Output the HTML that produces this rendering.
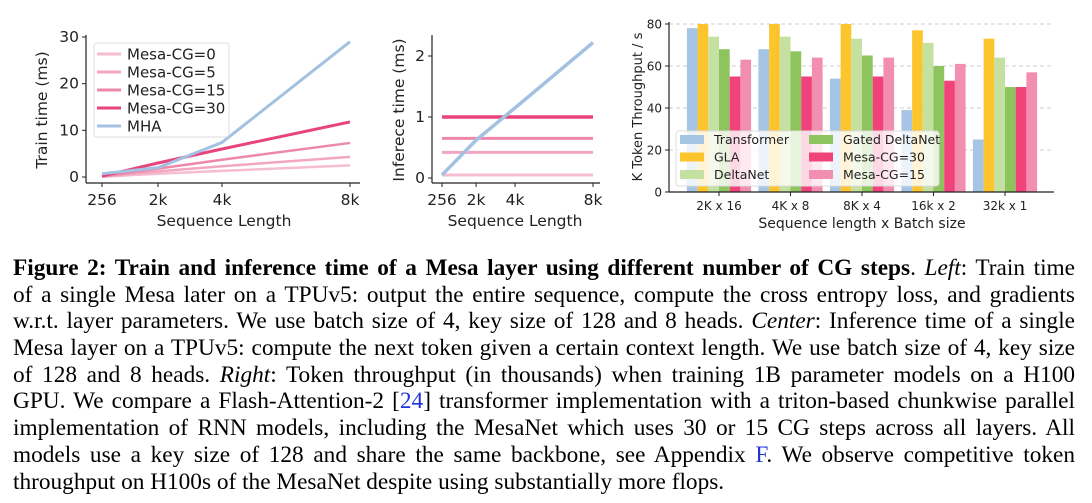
<!DOCTYPE html>
<html><head><meta charset="utf-8">
<style>
body{margin:0;background:#fff;width:1092px;height:503px;overflow:hidden;position:relative}
svg{position:absolute;left:0;top:0}
svg text{font-family:"DejaVu Sans",sans-serif;fill:#222}
#cap{position:absolute;left:13px;top:255px;width:1062px;font-family:"Liberation Serif",serif;font-size:23.3px;line-height:26.7px;color:#000}
#cap div{text-align:justify;text-align-last:justify;white-space:nowrap;height:26.7px}
#cap div.last{text-align-last:left}
.blue{color:#2233dd}
</style></head><body>
<svg id="chart" width="1092" height="250"></svg>
<div id="cap">
<div><b>Figure 2: Train and inference time of a Mesa layer using different number of CG steps</b>. <i>Left</i>: Train time</div>
<div>of a single Mesa later on a TPUv5: output the entire sequence, compute the cross entropy loss, and gradients</div>
<div>w.r.t. layer parameters. We use batch size of 4, key size of 128 and 8 heads. <i>Center</i>: Inference time of a single</div>
<div>Mesa layer on a TPUv5: compute the next token given a certain context length. We use batch size of 4, key size</div>
<div>of 128 and 8 heads. <i>Right</i>: Token throughput (in thousands) when training 1B parameter models on a H100</div>
<div>GPU. We compare a Flash-Attention-2 [<span class="blue">24</span>] transformer implementation with a triton-based chunkwise parallel</div>
<div>implementation of RNN models, including the MesaNet which uses 30 or 15 CG steps across all layers. All</div>
<div>models use a key size of 128 and share the same backbone, see Appendix <span class="blue">F</span>. We observe competitive token</div>
<div class="last">throughput on H100s of the MesaNet despite using substantially more flops.</div>
</div>
<script>
const seqLen=[256,2048,4096,8192];
const seqLabels=["256","2k","4k","8k"];
const trainCG0=[0.05,0.7,1.3,2.5];
const trainCG5=[0.1,1.2,2.3,4.3];
const trainCG15=[0.1,1.8,3.7,7.3];
const trainCG30=[0.2,3.0,6.0,11.8];
const trainMHA=[0.7,2.0,7.4,29];
const infCG0=[0.05,0.05,0.05,0.05];
const infCG5=[0.42,0.42,0.42,0.42];
const infCG15=[0.65,0.65,0.65,0.65];
const infCG30=[1.0,1.0,1.0,1.0];
const infMHA=[0.05,0.62,1.15,2.22];
const groups=["2K x 16","4K x 8","8K x 4","16k x 2","32k x 1"];
const tpTransformer=[78,68,54,39,25];
const tpGLA=[80,80,80,77,73];
const tpDeltaNet=[74,74,73,71,64];
const tpGated=[68,67,65,60,50];
const tpCG30=[55,55,55,53,50];
const tpCG15=[63,64,64,61,57];

const NS="http://www.w3.org/2000/svg";
const svg=document.getElementById('chart');
function el(tag,attrs,parent){const e=document.createElementNS(NS,tag);for(const k in attrs)e.setAttribute(k,attrs[k]);(parent||svg).appendChild(e);return e;}
function txt(s,x,y,attrs){const t=el('text',Object.assign({x:x,y:y},attrs||{}));t.textContent=s;return t;}
const C={cg0:'#f6bcd0',cg5:'#f3a6c1',cg15:'#ee88aa',cg30:'#e8437c',mha:'#a3c1e0'};

// ---- Left chart
(function(){
 const g=el('g',{});
 
 
 const X=v=>102+(v-256)*(248/7936), Y=v=>177-v*(140/30);
 el('line',{x1:86,y1:35,x2:86,y2:183,stroke:'#222','stroke-width':1.2},g);
 el('line',{x1:86,y1:183,x2:360,y2:183,stroke:'#222','stroke-width':1.2},g);
 [0,10,20,30].forEach(v=>{el('line',{x1:82,y1:Y(v),x2:86,y2:Y(v),stroke:'#222'},g);const t=txt(v,79,Y(v)+5,{'text-anchor':'end','font-size':15.5});g.appendChild(t);});
 seqLen.forEach((v,i)=>{el('line',{x1:X(v),y1:183,x2:X(v),y2:187,stroke:'#222'},g);g.appendChild(txt(seqLabels[i],X(v),205,{'text-anchor':'middle','font-size':15.5}));});
 const xl=txt('Sequence Length',224,226,{'text-anchor':'middle','font-size':15.5});g.appendChild(xl);
 const yl=txt('Train time (ms)',0,0,{'text-anchor':'middle','font-size':15.5,transform:'translate(47,110) rotate(-90)'});g.appendChild(yl);
 const series=[[trainCG0,C.cg0,2.5],[trainCG5,C.cg5,2.5],[trainCG15,C.cg15,2.5],[trainCG30,C.cg30,3],[trainMHA,C.mha,3]];
 series.forEach(s=>{const p=el('polyline',{points:seqLen.map((v,i)=>X(v)+','+Y(s[0][i])).join(' '),fill:'none',stroke:s[1],'stroke-width':s[2]},g);});
 const lg=el('g',{},g);
 el('rect',{x:94,y:43,width:135,height:94,rx:3,fill:'rgba(255,255,255,0.85)',stroke:'#ddd'},lg);
 const names=['Mesa-CG=0','Mesa-CG=5','Mesa-CG=15','Mesa-CG=30','MHA'];
 const cols=[C.cg0,C.cg5,C.cg15,C.cg30,C.mha];
 names.forEach((n,i)=>{const y=54+i*18;el('line',{x1:97,y1:y,x2:121,y2:y,stroke:cols[i],'stroke-width':3},lg);lg.appendChild(txt(n,127,y+5.5,{'font-size':15}));});
})();

// ---- Middle chart
(function(){
 const g=el('g',{});
 
 
 const X=v=>442+(v-256)*(151/7936), Y=v=>178-v*61;
 el('line',{x1:432,y1:35,x2:432,y2:183,stroke:'#222','stroke-width':1.2},g);
 el('line',{x1:432,y1:183,x2:600,y2:183,stroke:'#222','stroke-width':1.2},g);
 [0,1,2].forEach(v=>{el('line',{x1:428,y1:Y(v),x2:432,y2:Y(v),stroke:'#222'},g);g.appendChild(txt(v,425,Y(v)+5,{'text-anchor':'end','font-size':15.5}));});
 seqLen.forEach((v,i)=>{el('line',{x1:X(v),y1:183,x2:X(v),y2:187,stroke:'#222'},g);g.appendChild(txt(seqLabels[i],X(v),205,{'text-anchor':'middle','font-size':15.5}));});
 const xl=txt('Sequence Length',515,226,{'text-anchor':'middle','font-size':15.5});g.appendChild(xl);
 const yl=txt('Inferece time (ms)',0,0,{'text-anchor':'middle','font-size':15.5,transform:'translate(404,110) rotate(-90)'});g.appendChild(yl);
 [[infCG0,C.cg0,3],[infCG5,C.cg5,3],[infCG15,C.cg15,3],[infCG30,C.cg30,3.5],[infMHA,C.mha,3.5]].forEach(s=>{const p=el('polyline',{points:seqLen.map((v,i)=>X(v)+','+Y(s[0][i])).join(' '),fill:'none',stroke:s[1],'stroke-width':s[2]},g);});
})();

// ---- Right chart
(function(){
 const g=el('g',{});
 
 
 const Y=v=>192-v*(168/80);
 const gc=i=>719+i*71.5, bw=10.7;
 [20,40,60,80].forEach(v=>el('line',{x1:669,y1:Y(v),x2:1054,y2:Y(v),stroke:'#ccc','stroke-dasharray':'4,3','stroke-width':1},g));
 const series=[[tpTransformer,'#a6c4e3'],[tpGLA,'#fcc52e'],[tpDeltaNet,'#c5e1a2'],[tpGated,'#8dc45d'],[tpCG30,'#f0437c'],[tpCG15,'#f28fb1']];
 groups.forEach((gname,i)=>{series.forEach((s,j)=>{const x=gc(i)-3*bw+j*bw;const r=el('rect',{x:x,y:Y(s[0][i]),width:bw,height:192-Y(s[0][i]),fill:s[1]},g);});});
 el('line',{x1:669,y1:22,x2:669,y2:192,stroke:'#222','stroke-width':1.2},g);
 el('line',{x1:669,y1:192,x2:1054,y2:192,stroke:'#222','stroke-width':1.2},g);
 [0,20,40,60,80].forEach(v=>{el('line',{x1:665,y1:Y(v),x2:669,y2:Y(v),stroke:'#222'},g);g.appendChild(txt(v,662,Y(v)+4.5,{'text-anchor':'end','font-size':12}));});
 groups.forEach((n,i)=>{el('line',{x1:gc(i),y1:192,x2:gc(i),y2:196,stroke:'#222'},g);g.appendChild(txt(n,gc(i),210,{'text-anchor':'middle','font-size':12}));});
 const xl=txt('Sequence length x Batch size',862,228,{'text-anchor':'middle','font-size':14});g.appendChild(xl);
 const yl=txt('K Token Throughput / s',0,0,{'text-anchor':'middle','font-size':13,transform:'translate(642,107) rotate(-90)'});g.appendChild(yl);
 const lg=el('g',{},g);
 el('rect',{x:676,y:131,width:263,height:55,rx:3,fill:'rgba(255,255,255,0.8)',stroke:'#ddd'},lg);
 const names=['Transformer','GLA','DeltaNet','Gated DeltaNet','Mesa-CG=30','Mesa-CG=15'];
 names.forEach((n,k)=>{const col=Math.floor(k/3),row=k%3;const x=680+col*129,y=135+row*17.5;el('rect',{x:x,y:y,width:24,height:9,fill:series[k][1]},lg);lg.appendChild(txt(n,x+34,y+9,{'font-size':12.5}));});
})();
</script>
</body></html>
